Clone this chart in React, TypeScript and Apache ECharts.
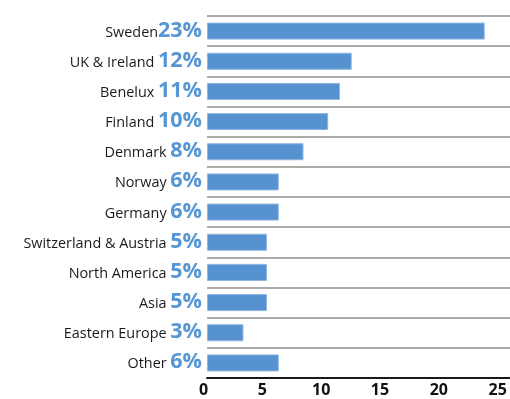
import React, { useEffect, useRef } from "react";
import * as echarts from "echarts";

const categories = [
  "Sweden",
  "UK & Ireland",
  "Benelux",
  "Finland",
  "Denmark",
  "Norway",
  "Germany",
  "Switzerland & Austria",
  "North America",
  "Asia",
  "Eastern Europe",
  "Other",
];
const percentLabels = ["23%", "12%", "11%", "10%", "8%", "6%", "6%", "5%", "5%", "5%", "3%", "6%"];
const values = [23.6, 12.3, 11.3, 10.3, 8.2, 6.1, 6.1, 5.1, 5.1, 5.1, 3.1, 6.1];
const xTicks = [0, 5, 10, 15, 20, 25];

export default function App() {
  const ref = useRef<HTMLDivElement>(null);
  useEffect(() => {
    if (!ref.current) return;
    const chart = echarts.init(ref.current, null, { renderer: "svg" });
    chart.setOption({
      animation: false,
      grid: {
        left: 207,
        right: 0,
        top: 16,
        bottom: 21,
        containLabel: false,
        outerBoundsMode: "none",
      },
      xAxis: {
        type: "value",
        min: 0,
        max: 25.75,
        interval: 5,
        splitLine: { show: false },
        axisTick: { show: false },
        axisLine: { show: true, lineStyle: { color: "#1a1a1a", width: 2 } },
        axisLabel: {
          margin: 3,
          color: "#111",
          fontFamily: "Open Sans",
          fontWeight: "bold",
          fontSize: 16,
          lineHeight: 16,
          padding: [0, 7, 0, 0],
          showMaxLabel: false,
          formatter: (v: number) => (xTicks.includes(v) ? String(v) : ""),
        },
      },
      yAxis: {
        type: "category",
        inverse: true,
        data: categories,
        axisLine: { show: false },
        axisTick: { show: false },
        splitLine: { show: true, lineStyle: { color: "#8f8f8f", width: 1.5 } },
        axisLabel: {
          margin: 5,
          padding: [0, 0, 4, 0],
          formatter: (v: string, i: number) =>
            `{n|${v}${v === "Sweden" ? "" : " "}}{p|${percentLabels[i]}}`,
          rich: {
            n: {
              fontFamily: "Open Sans",
              fontSize: 14.4,
              color: "#1a1a1a",
              lineHeight: 24,
              verticalAlign: "bottom",
              padding: [0, 0, 3, 0],
            },
            p: {
              fontFamily: "Open Sans",
              fontSize: 21.5,
              fontWeight: "bold",
              color: "#5596d4",
              lineHeight: 24,
              verticalAlign: "bottom",
              padding: [0, 0, 2, 0],
            },
          },
        },
      },
      series: [
        {
          type: "bar",
          data: values,
          barWidth: 17,
          itemStyle: { color: "#5592cf", borderColor: "#8fb6e2", borderWidth: 1 },
        },
      ],
    });
    return () => chart.dispose();
  }, []);
  return (
    <div
      ref={ref}
      style={{ position: "fixed", left: 0, top: 0, width: 510, height: 399 }}
    />
  );
}
